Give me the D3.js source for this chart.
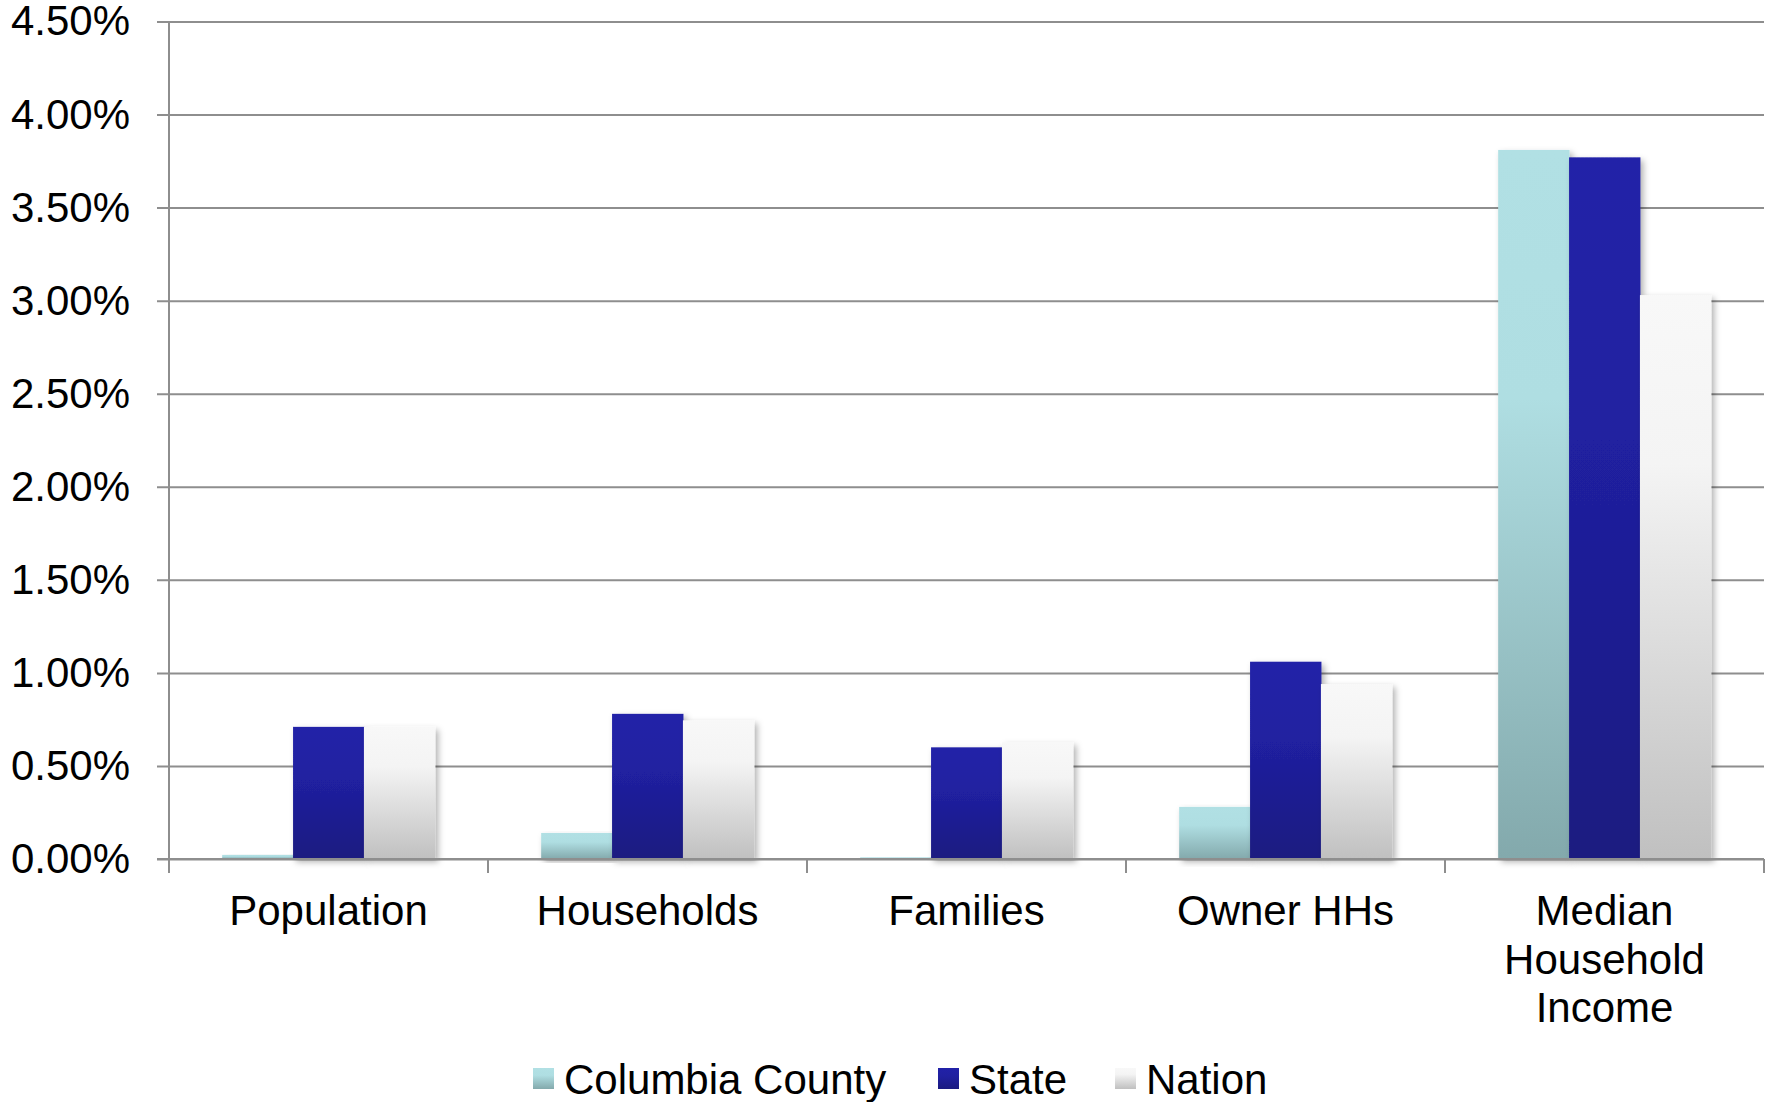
<!DOCTYPE html>
<html>
<head>
<meta charset="utf-8">
<script src="https://cdn.jsdelivr.net/npm/d3@7"></script>
<style>
  body { margin: 0; background: #fff; }
  text { font-family: "Liberation Sans", Arial, sans-serif; fill: #000; }
</style>
</head>
<body>
<div id="chart"></div>
<script>
// values in percent
var categories = ["Population", "Households", "Families", "Owner HHs", "Median Household Income"];
var seriesNames = ["Columbia County", "State", "Nation"];
var countyValues = [0.022, 0.14, 0.009, 0.28, 3.81];
var stateValues = [0.71, 0.78, 0.60, 1.06, 3.77];
var nationValues = [0.71, 0.745, 0.627, 0.94, 3.03];
var yTicks = [0, 0.5, 1, 1.5, 2, 2.5, 3, 3.5, 4, 4.5];

var W = 1777, H = 1102;
var margin = {top: 21.5, right: 13, bottom: 243, left: 169};
var width = W - margin.left - margin.right,
    height = H - margin.top - margin.bottom;

var rows = categories.map(function(c, i) {
  return {cat: c, vals: [countyValues[i], stateValues[i], nationValues[i]]};
});

var svg = d3.select("#chart").append("svg")
  .attr("width", W).attr("height", H);

var defs = svg.append("defs");
// gradient per series (top -> bottom)
var grads = [
  {id: "gCounty", stops: [["0%", "#b1e0e4"], ["35%", "#afdee2"], ["100%", "#83a9ac"]]},
  {id: "gState", stops: [["0%", "#2121a8"], ["40%", "#2020a0"], ["100%", "#1a1a80"]]},
  {id: "gNation", stops: [["0%", "#f8f8f8"], ["30%", "#f4f4f4"], ["100%", "#c0c0c0"]]}
];
grads.forEach(function(g) {
  var lg = defs.append("linearGradient").attr("id", g.id)
    .attr("x1", 0).attr("y1", 0).attr("x2", 0).attr("y2", 1);
  g.stops.forEach(function(s) {
    lg.append("stop").attr("offset", s[0]).attr("stop-color", s[1]);
  });
});
var f = defs.append("filter").attr("id", "shadow")
  .attr("x", "-20%").attr("y", "-5%").attr("width", "150%").attr("height", "120%");
f.append("feDropShadow").attr("dx", 3).attr("dy", 3).attr("stdDeviation", 3)
  .attr("flood-color", "#000").attr("flood-opacity", 0.3);

var g = svg.append("g")
  .attr("transform", "translate(" + margin.left + "," + margin.top + ")");

var x0 = d3.scaleBand().domain(categories).range([0, width])
  .paddingInner(1 / 3).paddingOuter(1 / 6);
var x1 = d3.scaleBand().domain(seriesNames).range([0, x0.bandwidth()]).padding(0);
var y = d3.scaleLinear().domain([0, 4.5]).range([height, 0]);

// grid lines + left ticks
var leftAxis = d3.axisLeft(y).tickValues(yTicks)
  .tickSize(-width).tickPadding(0)
  .tickFormat(function(d) { return d3.format(".2f")(d) + "%"; });
var ya = g.append("g").call(leftAxis);
ya.select(".domain").remove();
ya.selectAll(".tick line").attr("x1", -12).attr("stroke", "#8e8e8e").attr("stroke-width", 2);
ya.selectAll(".tick text").attr("x", -39).attr("font-size", 42)
  .attr("font-family", "Liberation Sans, Arial, sans-serif");

// y axis line
g.append("line").attr("x1", 0).attr("x2", 0).attr("y1", 0).attr("y2", height + 14)
  .attr("stroke", "#8e8e8e").attr("stroke-width", 2);

// bars
var fills = ["url(#gCounty)", "url(#gState)", "url(#gNation)"];
var groups = g.selectAll(".grp").data(rows).enter().append("g")
  .attr("class", "grp")
  .attr("transform", function(d) { return "translate(" + x0(d.cat) + ",0)"; });
groups.selectAll("rect")
  .data(function(d) { return d.vals.map(function(v, i) { return {s: seriesNames[i], v: v, i: i}; }); })
  .enter().append("rect")
  .attr("x", function(d) { return x1(d.s); })
  .attr("y", function(d) { return y(d.v); })
  .attr("width", x1.bandwidth() + 0.5)
  .attr("height", function(d) { return Math.max(height - y(d.v), 1); })
  .attr("fill", function(d) { return fills[d.i]; })
  .attr("filter", "url(#shadow)");

// bottom axis line with category boundary ticks
g.append("line").attr("x1", -12).attr("x2", width).attr("y1", height).attr("y2", height)
  .attr("stroke", "#8e8e8e").attr("stroke-width", 2);
var step = x0.step();
g.selectAll(".ctick").data(d3.range(categories.length + 1)).enter().append("line")
  .attr("x1", function(i) { return i * step; }).attr("x2", function(i) { return i * step; })
  .attr("y1", height).attr("y2", height + 14)
  .attr("stroke", "#8e8e8e").attr("stroke-width", 2);

// category labels, wrapped
var lab = g.selectAll(".clab").data(categories).enter().append("text")
  .attr("class", "clab")
  .attr("x", function(d) { return x0(d) + x0.bandwidth() / 2; })
  .attr("y", height + 66)
  .attr("text-anchor", "middle").attr("font-size", 42);
lab.each(function(d) {
  var t = d3.select(this), words = d.split(" "), line = [], n = 0;
  var ts = t.append("tspan").attr("x", t.attr("x")).attr("dy", 0);
  words.forEach(function(w) {
    line.push(w);
    ts.text(line.join(" "));
    if (ts.node().getComputedTextLength() > step * 0.85 && line.length > 1) {
      line.pop();
      ts.text(line.join(" "));
      line = [w];
      n++;
      ts = t.append("tspan").attr("x", t.attr("x")).attr("dy", 48.5).text(w);
    }
  });
});

// legend
var legend = svg.append("g").attr("transform", "translate(0,1079)");
var legX = [533, 938, 1115];
seriesNames.forEach(function(s, i) {
  legend.append("rect").attr("x", legX[i]).attr("y", -11).attr("width", 21).attr("height", 21)
    .attr("fill", fills[i]);
  legend.append("text").attr("x", legX[i] + 31).attr("y", 15)
    .attr("font-size", 42).text(s);
});
</script>
</body>
</html>
